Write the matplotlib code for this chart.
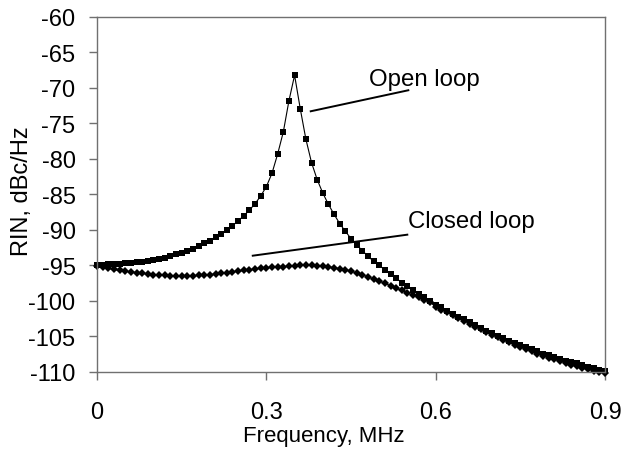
import matplotlib.pyplot as plt
import numpy as np

plt.rcParams["font.family"] = ["Liberation Sans", "DejaVu Sans"]

# frequency grid, MHz
freq = np.round(np.arange(0, 0.901, 0.01), 2)

open_loop = [
    -94.9, -94.9, -94.85, -94.8, -94.75, -94.7, -94.6, -94.5, -94.45, -94.35,
    -94.2, -94.05, -93.9, -93.7, -93.45, -93.2, -92.95, -92.65, -92.3, -91.9,
    -91.5, -91.0, -90.55, -90.05, -89.4, -88.7, -88.0, -87.2, -86.3, -85.2,
    -83.9, -82.0, -79.3, -76.2, -71.8, -68.2, -72.9, -77.2, -80.5, -82.9,
    -84.8, -86.4, -87.8, -89.1, -90.2, -91.2, -92.1, -92.9, -93.7, -94.4,
    -95.0, -95.6, -96.2, -96.8, -97.4, -97.9, -98.5, -99.0, -99.5, -100.0,
    -100.5, -100.9, -101.4, -101.8, -102.2, -102.6, -103.0, -103.4, -103.8, -104.2,
    -104.5, -104.9, -105.2, -105.6, -105.9, -106.2, -106.5, -106.8, -107.1, -107.4,
    -107.6, -107.9, -108.1, -108.4, -108.6, -108.8, -109.0, -109.3, -109.5, -109.7,
    -109.9,
]

closed_loop = [
    -95.1, -95.25, -95.4, -95.55, -95.7, -95.8, -95.9, -96.0, -96.1, -96.2,
    -96.3, -96.35, -96.4, -96.45, -96.5, -96.5, -96.5, -96.45, -96.4, -96.35,
    -96.3, -96.2, -96.1, -96.0, -95.9, -95.8, -95.7, -95.6, -95.5, -95.4,
    -95.3, -95.25, -95.2, -95.15, -95.1, -95.05, -95.0, -95.0, -95.0, -95.05,
    -95.1, -95.2, -95.3, -95.45, -95.6, -95.8, -96.05, -96.3, -96.6, -96.9,
    -97.2, -97.5, -97.85, -98.2, -98.5, -98.85, -99.2, -99.5, -99.85, -100.2,
    -100.8, -101.2, -101.6, -102.0, -102.4, -102.8, -103.2, -103.6, -104.0, -104.4,
    -104.8, -105.1, -105.5, -105.8, -106.2, -106.5, -106.8, -107.1, -107.4, -107.7,
    -108.0, -108.2, -108.5, -108.7, -109.0, -109.2, -109.4, -109.6, -109.8, -110.0,
    -110.1,
]

x_ticks = [0, 0.3, 0.6, 0.9]
x_tick_labels = ["0", "0.3", "0.6", "0.9"]
y_ticks = list(range(-110, -55, 5))

spine_color = "#707070"

fig = plt.figure(figsize=(6.35, 4.52), dpi=100)
ax = fig.add_axes([0.1528, 0.1748, 0.8, 0.7854])

ax.plot(freq, open_loop, color="black", lw=0.8, marker="s", ms=4.7,
        markeredgewidth=0, clip_on=False)
ax.plot(freq, closed_loop, color="black", lw=0.8, marker="D", ms=3.6,
        markeredgewidth=0, clip_on=False)

# callout lines and labels
ax.plot([0.3786, 0.5515], [-73.28, -70.32], color="black", lw=1.4)
ax.plot([0.2759, 0.5497], [-93.62, -90.66], color="black", lw=1.4)
ax.text(0.482, -69.58, "Open loop", fontsize=17.3, va="baseline", ha="left")
ax.text(0.5515, -89.58, "Closed loop", fontsize=17.3, va="baseline", ha="left")

ax.set_xlim(0, 0.9)
ax.set_ylim(-110, -60)
ax.set_xticks(x_ticks)
ax.set_xticklabels(x_tick_labels)
ax.set_yticks(y_ticks)
ax.set_yticklabels([str(v) for v in y_ticks])

for side in ["left", "right", "top", "bottom"]:
    ax.spines[side].set_color(spine_color)
    ax.spines[side].set_linewidth(1.0)

ax.tick_params(axis="both", direction="out", length=6, width=1.0,
               color=spine_color, labelsize=17)
ax.tick_params(axis="y", pad=9.5)
ax.tick_params(axis="x", pad=15)

ax.set_xlabel("Frequency, MHz", fontsize=16)
ax.set_ylabel("RIN, dBc/Hz", fontsize=17)
ax.xaxis.set_label_coords(0.446, -0.149)
ax.yaxis.set_label_coords(-0.126, 0.513)

fig.savefig("out.png", dpi=100)
